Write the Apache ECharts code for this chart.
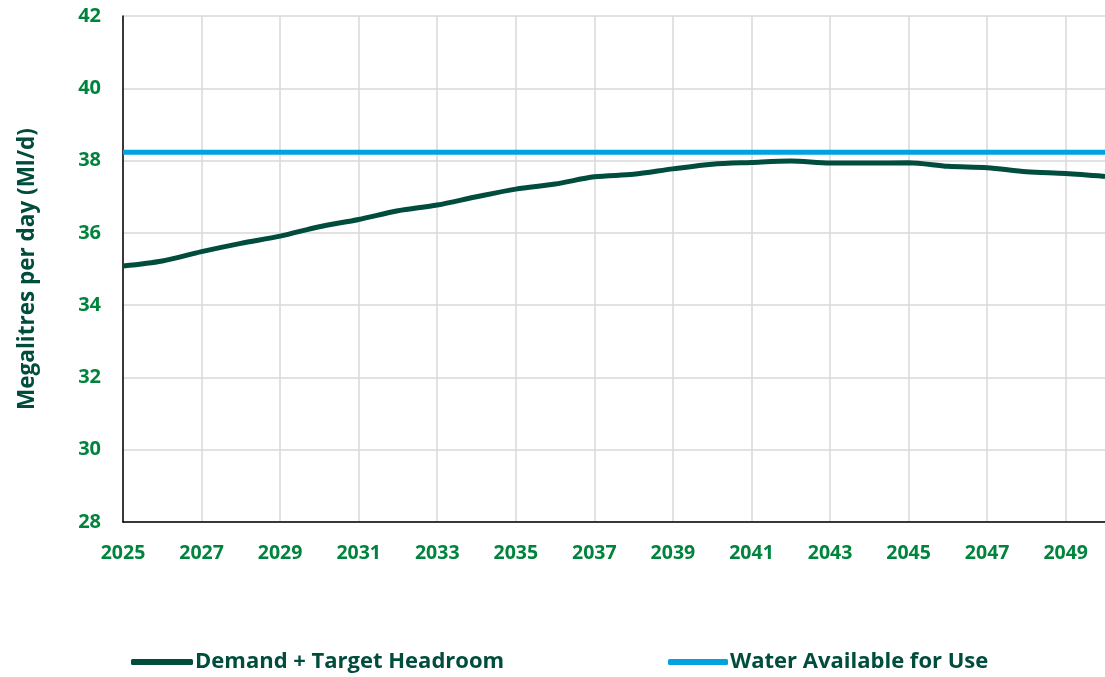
<!DOCTYPE html>
<html>
<head>
<meta charset="utf-8">
<script src="https://cdn.jsdelivr.net/npm/echarts@6/dist/echarts.min.js"></script>
<style>
  html, body { margin: 0; padding: 0; background: #fff; }
  #chart { width: 1105px; height: 677px; }
</style>
</head>
<body>
<div id="chart"></div>
<script>
var years = ['2025', '2026', '2027', '2028', '2029', '2030', '2031', '2032', '2033', '2034',
  '2035', '2036', '2037', '2038', '2039', '2040', '2041', '2042', '2043', '2044',
  '2045', '2046', '2047', '2048', '2049', '2050'];

var demandHeadroom = [35.08, 35.22, 35.48, 35.71, 35.91, 36.17, 36.37, 36.61, 36.77, 37.00,
  37.21, 37.35, 37.55, 37.62, 37.77, 37.90, 37.95, 37.99, 37.93, 37.93,
  37.94, 37.84, 37.80, 37.69, 37.64, 37.56];

var waterAvailable = [38.23, 38.23, 38.23, 38.23, 38.23, 38.23, 38.23, 38.23, 38.23, 38.23,
  38.23, 38.23, 38.23, 38.23, 38.23, 38.23, 38.23, 38.23, 38.23, 38.23,
  38.23, 38.23, 38.23, 38.23, 38.23, 38.23];

var darkGreen = '#004D3D';
var labelGreen = '#00843D';
var blue = '#00A3E0';
var fontName = '"Open Sans"';

var legendText = {
  color: darkGreen,
  fontFamily: fontName,
  fontWeight: 'bold',
  fontSize: 22,
  padding: [0, 0, 0, -3]
};

var chart = echarts.init(document.getElementById('chart'), null, { renderer: 'canvas' });

var option = {
  animation: false,
  grid: {
    left: 123,
    top: 16,
    right: -5,
    bottom: 155
  },
  legend: [
    {
      left: 126,
      top: 646,
      itemWidth: 62,
      itemHeight: 6,
      icon: 'roundRect',
      textStyle: legendText,
      data: ['Demand + Target Headroom']
    },
    {
      left: 663,
      top: 646,
      itemWidth: 60,
      itemHeight: 6,
      icon: 'roundRect',
      textStyle: legendText,
      data: ['Water Available for Use']
    }
  ],
  xAxis: {
    type: 'category',
    data: years,
    boundaryGap: false,
    axisLine: { lineStyle: { color: '#000', width: 1.5 } },
    axisTick: { show: false },
    axisLabel: {
      interval: 1,
      margin: 21,
      color: labelGreen,
      fontFamily: fontName,
      fontWeight: 'bold',
      fontSize: 19.5
    },
    splitLine: {
      show: true,
      interval: 1,
      lineStyle: { color: '#D9D9D9', width: 1.5 }
    }
  },
  yAxis: {
    type: 'value',
    min: 28,
    max: 42,
    interval: 2,
    name: 'Megalitres per day (Ml/d)',
    nameLocation: 'middle',
    nameGap: 84,
    nameTextStyle: {
      color: darkGreen,
      fontFamily: fontName,
      fontWeight: 'bold',
      fontSize: 22.5
    },
    axisLine: { show: true, lineStyle: { color: '#000', width: 1.5 } },
    axisTick: { show: false },
    axisLabel: {
      margin: 22,
      color: labelGreen,
      fontFamily: fontName,
      fontWeight: 'bold',
      fontSize: 20
    },
    splitLine: {
      lineStyle: { color: '#D9D9D9', width: 1.5 }
    }
  },
  series: [
    {
      name: 'Demand + Target Headroom',
      type: 'line',
      data: demandHeadroom,
      smooth: 0.3,
      symbol: 'none',
      color: darkGreen,
      lineStyle: { color: darkGreen, width: 5 }
    },
    {
      name: 'Water Available for Use',
      type: 'line',
      data: waterAvailable,
      symbol: 'none',
      color: blue,
      lineStyle: { color: blue, width: 5 }
    }
  ]
};

chart.setOption(option);
</script>
</body>
</html>
